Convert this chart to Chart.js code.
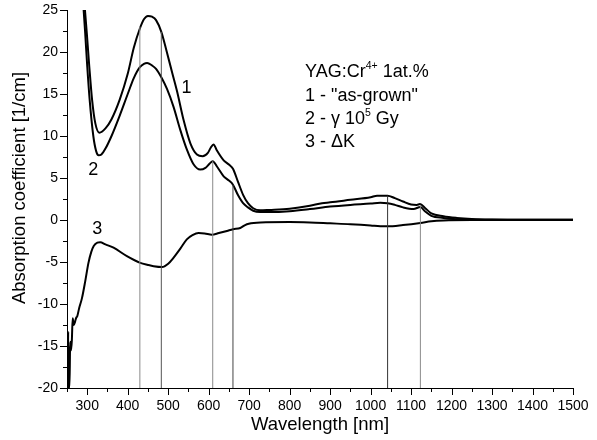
<!DOCTYPE html>
<html>
<head>
<meta charset="utf-8">
<script src="https://cdn.jsdelivr.net/npm/chart.js@4/dist/chart.umd.min.js"></script>
<style>
  html, body { margin: 0; padding: 0; background: #fff; }
  #wrap { width: 597px; height: 440px; }
</style>
</head>
<body>
<div id="wrap"><canvas id="chart" width="597" height="440"></canvas></div>
<script>
// curve 1 - "as-grown"
const wl1 = [290, 293, 299, 305, 312, 320, 330, 345, 360, 380, 400, 415, 430, 440, 450, 460, 470, 483, 495, 510, 522, 538, 555, 571, 585, 598, 605, 612, 620, 637, 650, 660, 672, 685, 697, 710, 727, 750, 800, 850, 880, 900, 950, 1000, 1016, 1042, 1060, 1080, 1100, 1114, 1122, 1135, 1150, 1180, 1213, 1250, 1300, 1350, 1400, 1450, 1500];
const abs1 = [27.6, 25.8, 22.2, 18.3, 14.3, 11.5, 10.4, 10.9, 12.0, 14.3, 17.4, 20.5, 22.8, 23.9, 24.3, 24.2, 23.8, 22.4, 20.3, 17.5, 15.3, 11.9, 9.1, 7.8, 7.6, 8.0, 8.6, 9.0, 8.3, 7.1, 6.6, 6.1, 4.6, 3.0, 2.0, 1.4, 1.15, 1.2, 1.35, 1.7, 2.0, 2.1, 2.4, 2.7, 2.9, 2.9, 2.6, 2.2, 1.85, 1.8, 1.9, 1.4, 0.8, 0.45, 0.25, 0.12, 0.05, 0.03, 0.02, 0.02, 0.02];

// curve 2 - gamma 10^5 Gy
const wl2 = [289, 295, 300, 306, 315, 322, 328, 335, 345, 360, 380, 400, 415, 430, 440, 448, 460, 470, 483, 497, 513, 530, 546, 563, 579, 592, 602, 610, 620, 637, 650, 660, 672, 685, 697, 710, 727, 750, 800, 850, 900, 950, 1000, 1024, 1042, 1060, 1080, 1106, 1123, 1135, 1150, 1180, 1213, 1250, 1300, 1400, 1500];
const abs2 = [26.5, 22.2, 18.3, 14.3, 10.0, 8.2, 7.7, 7.8, 8.5, 10.0, 12.4, 15.0, 16.9, 18.2, 18.6, 18.7, 18.4, 18.0, 17.0, 15.6, 13.5, 10.7, 8.4, 6.6, 6.0, 6.2, 6.7, 7.0, 6.4, 5.2, 4.7, 4.2, 3.0, 2.0, 1.5, 1.1, 0.95, 0.95, 1.05, 1.3, 1.6, 1.8, 1.95, 2.05, 2.0, 1.8, 1.5, 1.3, 1.55, 1.0, 0.5, 0.25, 0.1, 0.05, 0.02, 0.02, 0.02];

// curve 3 - delta K
const wl3 = [252, 253, 254, 256, 258, 260, 262, 264, 267, 270, 273, 275, 280, 287, 295, 303, 310, 316, 325, 332, 345, 365, 398, 431, 450, 464, 485, 500, 513, 530, 546, 560, 575, 590, 608, 625, 645, 660, 678, 690, 699, 728, 800, 850, 900, 950, 1000, 1024, 1042, 1080, 1123, 1150, 1180, 1250, 1350, 1500];
const abs3 = [-20, -13.3, -20, -20, -14.5, -15.5, -14.3, -11.7, -12.5, -12.1, -11.6, -11.5, -10.5, -9.3, -7.3, -5.1, -3.8, -3.1, -2.7, -2.65, -2.9, -3.3, -4.3, -5.1, -5.35, -5.5, -5.6, -5.2, -4.5, -3.4, -2.3, -1.8, -1.55, -1.6, -1.75, -1.55, -1.3, -1.1, -0.95, -0.6, -0.45, -0.3, -0.25, -0.3, -0.4, -0.5, -0.65, -0.75, -0.75, -0.6, -0.35, -0.15, -0.05, 0, 0, 0];

// vertical marker lines (wavelength, top value)
const markerWl = [430, 483, 610, 660, 1042, 1123];
const markerTop = [23.0, 22.4, 7.0, 4.2, 2.9, 1.8];
const markerShade = ['#8a8a8a', '#555555', '#8a8a8a', '#444444', '#333333', '#8a8a8a'];

// curve numbers (wavelength, value)
const curveLabels = ['1', '2', '3'];
const curveLabelWl = [545, 315, 325];
const curveLabelAbs = [15.7, 6.0, -1.05];

const xTickMin = 250, xTickMax = 1500, xStep = 50;
const yTickMin = -20, yTickMax = 25, yStep = 2.5;

const FONT = '"Liberation Sans", Arial, sans-serif';

const toPoints = (xs, ys) => xs.map((x, i) => ({ x: x, y: ys[i] }));

const curveStyle = {
  borderColor: '#000',
  borderWidth: 2,
  pointRadius: 0,
  fill: false,
  cubicInterpolationMode: 'monotone'
};

const datasets = [];
markerWl.forEach((w, i) => {
  datasets.push({
    data: [{ x: w, y: yTickMin }, { x: w, y: markerTop[i] }],
    borderColor: markerShade[i],
    borderWidth: 1,
    pointRadius: 0,
    fill: false
  });
});
datasets.push(Object.assign({ data: toPoints(wl1, abs1) }, curveStyle));
datasets.push(Object.assign({ data: toPoints(wl2, abs2) }, curveStyle));
datasets.push(Object.assign({ data: toPoints(wl3, abs3) }, curveStyle));

const decorations = {
  id: 'decorations',
  afterDraw(chart) {
    const ctx = chart.ctx;
    const xs = chart.scales.x, ys = chart.scales.y;
    const area = chart.chartArea;
    ctx.save();
    ctx.strokeStyle = '#000';
    ctx.lineWidth = 1;
    // x ticks, outward
    for (let v = xTickMin; v <= xTickMax; v += xStep) {
      const px = Math.round(xs.getPixelForValue(v)) + 0.5;
      const len = v % 100 === 0 ? 7 : 4;
      ctx.beginPath();
      ctx.moveTo(px, area.bottom);
      ctx.lineTo(px, area.bottom + len);
      ctx.stroke();
    }
    // y ticks, outward
    for (let v = yTickMin; v <= yTickMax; v += yStep) {
      const py = Math.round(ys.getPixelForValue(v)) + 0.5;
      const len = v % 5 === 0 ? 7 : 4;
      ctx.beginPath();
      ctx.moveTo(area.left - len, py);
      ctx.lineTo(area.left, py);
      ctx.stroke();
    }

    ctx.fillStyle = '#000';
    // y title
    ctx.save();
    ctx.translate(20, 188);
    ctx.rotate(-Math.PI / 2);
    ctx.font = '18.5px ' + FONT;
    ctx.textAlign = 'center';
    ctx.textBaseline = 'middle';
    ctx.fillText('Absorption coefficient [1/cm]', 0, 0);
    ctx.restore();

    // curve numbers
    ctx.font = '18px ' + FONT;
    ctx.textAlign = 'center';
    ctx.textBaseline = 'middle';
    curveLabels.forEach((t, i) => {
      ctx.fillText(t, xs.getPixelForValue(curveLabelWl[i]), ys.getPixelForValue(curveLabelAbs[i]));
    });

    // legend block
    ctx.textAlign = 'left';
    const lx = 305;
    const big = '18px ' + FONT, small = '10.5px ' + FONT;
    const run = (parts, y) => {
      let x = lx;
      parts.forEach(p => {
        ctx.font = p.sup ? small : big;
        ctx.fillText(p.t, x, p.sup ? y - 6 : y);
        x += ctx.measureText(p.t).width;
      });
    };
    run([{ t: 'YAG:Cr' }, { t: '4+', sup: true }, { t: ' 1at.%' }], 72);
    run([{ t: '1 - "as-grown"' }], 96);
    run([{ t: '2 - \u03b3 10' }, { t: '5', sup: true }, { t: ' Gy' }], 119);
    run([{ t: '3 - \u0394K' }], 142);
    ctx.restore();
  }
};

new Chart(document.getElementById('chart'), {
  type: 'line',
  data: { datasets: datasets },
  options: {
    responsive: false,
    animation: false,
    layout: { padding: { left: 0, right: 24, top: 10, bottom: 0 } },
    plugins: { legend: { display: false }, tooltip: { enabled: false } },
    scales: {
      x: {
        type: 'linear',
        min: xTickMin,
        max: xTickMax,
        grid: { display: false, drawTicks: false },
        border: { display: true, color: '#000', width: 1 },
        ticks: {
          stepSize: xStep,
          autoSkip: false,
          maxRotation: 0,
          padding: 10,
          color: '#000',
          font: { family: FONT, size: 14 },
          callback: v => (v % 100 === 0 ? String(v) : '')
        },
        title: {
          display: true,
          text: 'Wavelength [nm]',
          color: '#000',
          font: { family: FONT, size: 18.5 },
          padding: { top: 0, bottom: 4 }
        },
        afterFit: s => { s.height = 52; s.paddingLeft = 0; s.paddingRight = 0; }
      },
      y: {
        min: yTickMin,
        max: yTickMax,
        grid: { display: false, drawTicks: false },
        border: { display: true, color: '#000', width: 1 },
        ticks: {
          stepSize: yStep,
          autoSkip: false,
          padding: 9,
          color: '#000',
          font: { family: FONT, size: 14 },
          callback: v => (v % 5 === 0 ? String(v) : '')
        },
        afterFit: s => { s.width = 67; s.paddingTop = 0; s.paddingBottom = 0; }
      }
    }
  },
  plugins: [decorations]
});
</script>
</body>
</html>
